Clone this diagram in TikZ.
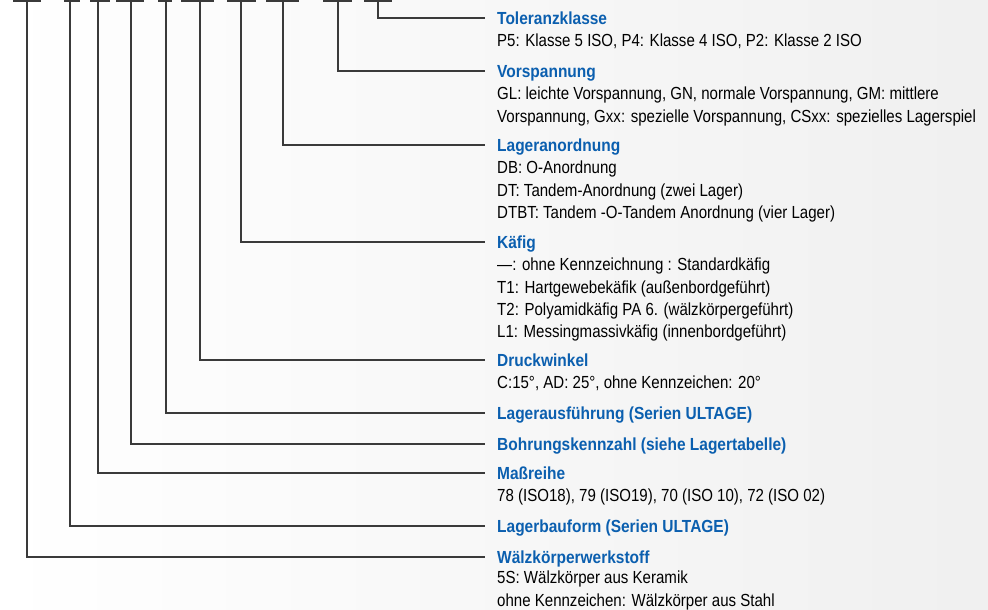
\documentclass[tikz,border=0pt]{standalone}
\usepackage{fontspec}
\setmainfont{Liberation Sans}[FakeStretch=0.86, BoldFeatures={FakeStretch=0.885}]
\usetikzlibrary{positioning}

\definecolor{codeblue}{HTML}{0B5FAF}
\definecolor{leadgray}{HTML}{3A3A3A}

\tikzset{
  keytitle/.style={anchor=west, inner sep=0pt, text height=12.5pt, text depth=0pt,
    text=codeblue, font=\fontsize{17.5}{22.3}\selectfont\bfseries},
  keydesc/.style={inner sep=0pt, align=left, font=\fontsize{17.5}{22.3}\selectfont},
  lead/.style={draw=leadgray, line width=1.1pt, shorten >=12pt},
  codebar/.style={draw=leadgray, line width=2.2pt}
}

\begin{document}
\begin{tikzpicture}[x=1pt,y=-1pt]
  \shade[left color=white, right color=black!6] (0,0) rectangle (988,610);
  \useasboundingbox (0,0) rectangle (988,610);

  % cut-off code positions at the top
  \foreach \a/\b in {13/41, 64/80, 90/110, 116/144, 158/172, 181/214, 227/256, 266/299, 323/352, 364/392}
    \draw[codebar] (\a,0.5) -- (\b,0.5);
  \foreach \n/\x in {wal/27, bau/70, mass/98, boh/131, aus/166, dru/200, kae/241, lag/283, vor/338, tol/378}
    \coordinate (\n-top) at (\x,0);

  % headings
  \node[keytitle] (tol-title) at (497,18) {Toleranzklasse};
  \node[keytitle] (vor-title) at (497,71) {Vorspannung};
  \node[keytitle] (lag-title) at (497,145) {Lageranordnung};
  \node[keytitle] (kae-title) at (497,242) {Käfig};
  \node[keytitle] (dru-title) at (497,360) {Druckwinkel};
  \node[keytitle] (aus-title) at (497,413) {Lagerausführung (Serien ULTAGE)};
  \node[keytitle] (boh-title) at (497,444) {Bohrungskennzahl (siehe Lagertabelle)};
  \node[keytitle] (mass-title) at (497,473) {Maßreihe};
  \node[keytitle] (bau-title) at (497,526) {Lagerbauform (Serien ULTAGE)};
  \node[keytitle] (wal-title) at (497,557) {Wälzkörperwerkstoff};

  % explanations
  \node[keydesc] (tol-desc) [below=6.6pt of tol-title.south west, anchor=north west]
    {\strut P5: Klasse 5 ISO, P4: Klasse 4 ISO, P2: Klasse 2 ISO};
  \node[keydesc] (vor-desc) [below=6.6pt of vor-title.south west, anchor=north west]
    {\strut GL: leichte Vorspannung, GN, normale Vorspannung, GM: mittlere\\
     Vorspannung, Gxx: spezielle Vorspannung, CSxx: spezielles Lagerspiel};
  \node[keydesc] (lag-desc) [below=6.6pt of lag-title.south west, anchor=north west]
    {\strut DB: O-Anordnung\\
     DT: Tandem-Anordnung (zwei Lager)\\
     DTBT: Tandem -O-Tandem Anordnung (vier Lager)};
  \node[keydesc] (kae-desc) [below=6.6pt of kae-title.south west, anchor=north west]
    {\strut —: ohne Kennzeichnung : Standardkäfig\\
     T1: Hartgewebekäfik (außenbordgeführt)\\
     T2: Polyamidkäfig PA 6. (wälzkörpergeführt)\\
     L1: Messingmassivkäfig (innenbordgeführt)};
  \node[keydesc] (dru-desc) [below=6.6pt of dru-title.south west, anchor=north west]
    {\strut C:15°, AD: 25°, ohne Kennzeichen: 20°};
  \node[keydesc] (mass-desc) [below=6.6pt of mass-title.south west, anchor=north west]
    {\strut 78 (ISO18), 79 (ISO19), 70 (ISO 10), 72 (ISO 02)};
  \node[keydesc] (wal-desc) [below=4.6pt of wal-title.south west, anchor=north west]
    {\strut 5S: Wälzkörper aus Keramik\\
     ohne Kennzeichen: Wälzkörper aus Stahl};

  % leaders
  \foreach \n in {tol, vor, lag, kae, dru, aus, boh, mass, bau, wal}
    \draw[lead] (\n-top) |- (\n-title.west);
\end{tikzpicture}
\end{document}
